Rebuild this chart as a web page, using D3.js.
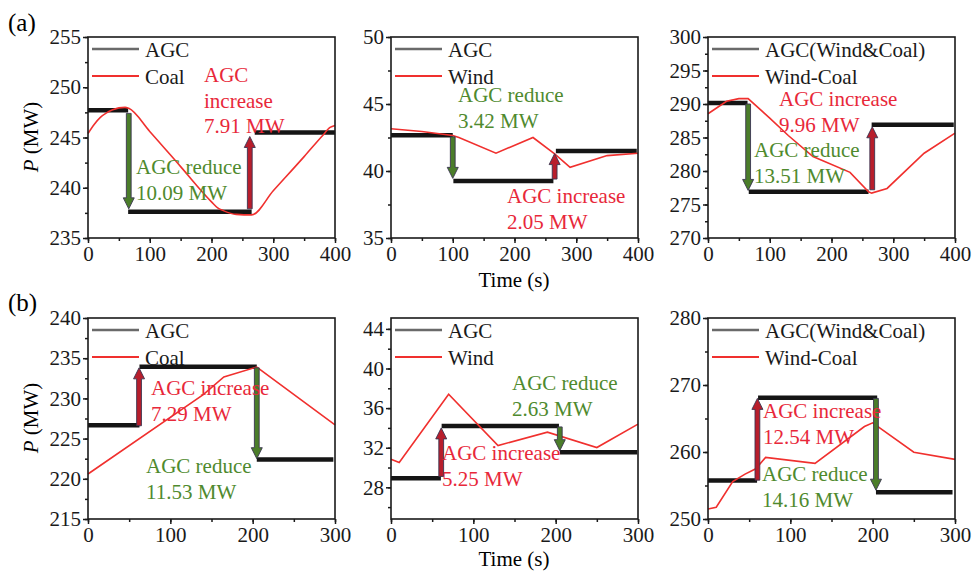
<!DOCTYPE html>
<html>
<head>
<meta charset="utf-8">
<script src="https://cdn.jsdelivr.net/npm/d3@7"></script>
<style>
body { margin: 0; background: #fff; }
</style>
</head>
<body>
<div id="chart"></div>
<script>
// ---- values ----
// row (a): 400 s run
const a1CoalT = [0, 10, 20, 30, 40, 50, 60, 66, 100, 150, 200, 210, 220, 240, 265, 300, 350, 380, 392, 400];
const a1CoalP = [245.4, 246.3, 247.0, 247.45, 247.75, 247.95, 248.0, 247.9, 245.6, 242.1, 238.6, 238.0, 237.7, 237.35, 237.3, 239.7, 243.1, 245.2, 246.0, 246.2];
const a1Agc = [[0, 65, 247.7], [65, 265, 237.6], [270, 400, 245.5]];
const a1Arrows = [[66, 247.4, 237.9], [262, 237.9, 245.1]];

const a2WindT = [0, 50, 100, 110, 170, 230, 265, 290, 350, 400];
const a2WindP = [43.15, 42.95, 42.65, 42.5, 41.33, 42.5, 41.28, 40.28, 41.15, 41.33];
const a2Agc = [[0, 100, 42.67], [101, 263, 39.26], [267, 398, 41.5]];
const a2Arrows = [[100, 42.55, 39.45], [265, 39.4, 41.3]];

const a3MixT = [0, 30, 50, 65, 100, 130, 170, 230, 260, 265, 290, 350, 400];
const a3MixP = [288.55, 290.4, 290.8, 290.8, 287.9, 285.3, 282.15, 279.8, 276.9, 276.7, 277.4, 282.65, 285.65];
const a3Agc = [[0, 64, 290.15], [66, 260, 276.9], [265, 398, 286.9]];
const a3Arrows = [[65, 290.0, 277.1], [266, 277.2, 286.6]];

// row (b): 300 s run
const b1CoalT = [0, 140, 165, 205, 300];
const b1CoalP = [220.6, 230.46, 232.66, 233.9, 226.7];
const b1Agc = [[0, 62.5, 226.65], [62.5, 205, 233.95], [205, 298, 222.4]];
const b1Arrows = [[62, 226.6, 233.8], [205, 233.8, 222.5]];

const b2WindT = [0, 10, 70, 130, 190, 250, 300];
const b2WindP = [30.84, 30.5, 37.4, 32.22, 33.57, 32.02, 34.38];
const b2Agc = [[0, 60.6, 28.91], [61.5, 204, 34.2], [205, 299, 31.55]];
const b2Arrows = [[61, 29.1, 34.0], [205, 34.1, 31.7]];

const b3MixT = [0, 10, 30, 45, 58, 70, 130, 190, 200, 250, 300];
const b3MixP = [251.5, 251.75, 255.6, 256.7, 257.5, 259.2, 258.3, 263.8, 264.35, 259.97, 258.9];
const b3Agc = [[0, 59.6, 255.73], [60.8, 205.5, 268.1], [204, 297, 254.0]];
const b3Arrows = [[60, 255.8, 268.0], [204, 268.0, 254.3]];

// axis tick labels
const a1Ticks = [235, 240, 245, 250, 255];
const a2Ticks = [35, 40, 45, 50];
const a3Ticks = [270, 275, 280, 285, 290, 295, 300];
const b1Ticks = [215, 220, 225, 230, 235, 240];
const b2Ticks = [28, 32, 36, 40, 44];
const b3Ticks = [250, 260, 270, 280];
const xTicksA = [0, 100, 200, 300, 400];
const xTicksB = [0, 100, 200, 300];

// legend and annotation texts
const legendCoal = ["AGC", "Coal"];
const legendWind = ["AGC", "Wind"];
const legendMix = ["AGC(Wind&Coal)", "Wind-Coal"];
const a1Notes = [["AGC", "increase", "7.91 MW"], ["AGC reduce", "10.09 MW"]];
const a2Notes = [["AGC increase", "2.05 MW"], ["AGC reduce", "3.42 MW"]];
const a3Notes = [["AGC increase", "9.96 MW"], ["AGC reduce", "13.51 MW"]];
const b1Notes = [["AGC increase", "7.29 MW"], ["AGC reduce", "11.53 MW"]];
const b2Notes = [["AGC increase", "5.25 MW"], ["AGC reduce", "2.63 MW"]];
const b3Notes = [["AGC increase", "12.54 MW"], ["AGC reduce", "14.16 MW"]];

// ---- layout ----
const FONT = "'Liberation Serif', Tinos, 'Times New Roman', Times, 'DejaVu Serif', serif";

const svg = d3.select("#chart").append("svg")
  .attr("width", 972)
  .attr("height", 572)
  .attr("font-family", FONT)
  .style("font-family", FONT);

const RED = "#f0302e";
const RED_TXT = "#e8283a";
const GREEN_TXT = "#4f8a2e";
const W = 247, H = 201;

// note offsets are [dx, dy of first baseline] from the plot's top-left
const panels = [
  { left: 88, top: 37, xmax: 400, y: [235, 255], yt: a1Ticks, yminor: 2.5, xt: xTicksA,
    t: a1CoalT, p: a1CoalP, agc: a1Agc, arrows: a1Arrows, legend: legendCoal,
    notes: a1Notes, noteAt: [[116, 45], [48, 137]] },
  { left: 391, top: 37, xmax: 400, y: [35, 50], yt: a2Ticks, yminor: 2.5, xt: xTicksA,
    t: a2WindT, p: a2WindP, agc: a2Agc, arrows: a2Arrows, legend: legendWind,
    notes: a2Notes, noteAt: [[116, 166], [67, 65]] },
  { left: 708, top: 37, xmax: 400, y: [270, 300], yt: a3Ticks, yminor: 2.5, xt: xTicksA,
    t: a3MixT, p: a3MixP, agc: a3Agc, arrows: a3Arrows, legend: legendMix,
    notes: a3Notes, noteAt: [[71, 69], [46, 120]] },
  { left: 88, top: 318, xmax: 300, y: [215, 240], yt: b1Ticks, yminor: 2.5, xt: xTicksB,
    t: b1CoalT, p: b1CoalP, agc: b1Agc, arrows: b1Arrows, legend: legendCoal,
    notes: b1Notes, noteAt: [[63, 77], [58, 155]] },
  { left: 391, top: 318, xmax: 300, y: [24.8, 45.1], yt: b2Ticks, yminor: 2, xt: xTicksB,
    t: b2WindT, p: b2WindP, agc: b2Agc, arrows: b2Arrows, legend: legendWind,
    notes: b2Notes, noteAt: [[51, 142], [121, 72]] },
  { left: 708, top: 318, xmax: 300, y: [250, 280], yt: b3Ticks, yminor: 5, xt: xTicksB,
    t: b3MixT, p: b3MixP, agc: b3Agc, arrows: b3Arrows, legend: legendMix,
    notes: b3Notes, noteAt: [[55, 100], [54, 163]] }
];

panels.forEach(function(pn, i) {
  const g = svg.append("g").attr("transform", `translate(${pn.left}, ${pn.top})`);

  const x = d3.scaleLinear().domain([0, pn.xmax]).range([0, W]);
  const y = d3.scaleLinear().domain(pn.y).range([H, 0]);

  // minor ticks (no labels)
  const yMinor = d3.range(Math.ceil(pn.y[0] / pn.yminor) * pn.yminor, pn.y[1] + 0.001, pn.yminor);
  g.append("g")
    .call(d3.axisLeft(y).tickValues(yMinor).tickSize(3).tickFormat(""))
    .call(a => a.select(".domain").remove());
  g.append("g")
    .attr("transform", `translate(0, ${H})`)
    .call(d3.axisBottom(x).tickValues(d3.range(0, pn.xmax + 1, 50)).tickSize(3).tickFormat(""))
    .call(a => a.select(".domain").remove());

  const yAxis = g.append("g")
    .call(d3.axisLeft(y).tickValues(pn.yt).tickSize(5).tickPadding(2).tickFormat(d3.format("d")));
  const xAxis = g.append("g")
    .attr("transform", `translate(0, ${H})`)
    .call(d3.axisBottom(x).tickValues(pn.xt).tickSize(5).tickPadding(3).tickFormat(d3.format("d")));

  [yAxis, xAxis].forEach(a => {
    a.attr("font-family", FONT).attr("font-size", 21);
    a.select(".domain").remove();
    a.selectAll("text").attr("fill", "#1a1a1a");
  });
  g.selectAll(".tick line").attr("stroke", "#1a1a1a").attr("stroke-width", 1.5);

  // AGC steps
  g.selectAll(".agc")
    .data(pn.agc)
    .enter()
    .append("line")
    .attr("x1", d => x(d[0]))
    .attr("x2", d => x(d[1]))
    .attr("y1", d => y(d[2]))
    .attr("y2", d => y(d[2]))
    .attr("stroke", "#151515")
    .attr("stroke-width", 4.5);

  // power curve
  const pts = pn.t.map((t, k) => [t, pn.p[k]]);
  const line = d3.line()
    .x(d => x(d[0]))
    .y(d => y(d[1]))
    .curve(i === 0 ? d3.curveMonotoneX : d3.curveLinear);
  g.append("path")
    .datum(pts)
    .attr("d", line)
    .attr("fill", "none")
    .attr("stroke", RED)
    .attr("stroke-width", 1.6);

  // arrows: up = red, down = green
  g.selectAll(".arrow")
    .data(pn.arrows)
    .enter()
    .append("path")
    .attr("d", d => {
      const cx = x(d[0]), y0 = y(d[1]), y1 = y(d[2]);
      const dir = y1 < y0 ? -1 : 1;
      const hl = 11, sw = 2.4, hw = 5.5;
      const yb = y1 - dir * hl;
      return `M${cx - sw},${y0} L${cx - sw},${yb} L${cx - hw},${yb} L${cx},${y1} ` +
             `L${cx + hw},${yb} L${cx + sw},${yb} L${cx + sw},${y0} Z`;
    })
    .attr("fill", d => d[2] > d[1] ? "#b81e2c" : "#4b7d2a")
    .attr("stroke", "#3a3450")
    .attr("stroke-width", 0.9);

  // annotations
  pn.notes.forEach(function(lines, k) {
    const isUp = lines[0].indexOf("increase") >= 0 || lines[1] === "increase";
    const at = pn.noteAt[k];
    const t = g.append("text")
      .attr("x", at[0])
      .attr("y", at[1])
      .attr("font-size", 21)
      .attr("fill", isUp ? RED_TXT : GREEN_TXT);
    lines.forEach((s, j) => {
      t.append("tspan").attr("x", at[0]).attr("y", at[1] + j * 25.5).text(s);
    });
  });

  // legend
  const lg = g.append("g");
  pn.legend.forEach(function(name, k) {
    const ly = 12 + k * 27;
    lg.append("line")
      .attr("x1", 4).attr("x2", 51)
      .attr("y1", ly).attr("y2", ly)
      .attr("stroke", k === 0 ? "#6a6a6a" : RED)
      .attr("stroke-width", k === 0 ? 2.6 : 2);
    lg.append("text")
      .attr("x", 57)
      .attr("y", ly + 8)
      .attr("font-size", 21)
      .attr("fill", "#1a1a1a")
      .text(name);
  });

  // frame
  g.append("rect")
    .attr("width", W)
    .attr("height", H)
    .attr("fill", "none")
    .attr("stroke", "#1a1a1a")
    .attr("stroke-width", 1.6);
});

// row labels and axis titles
svg.append("text").attr("x", 8).attr("y", 31).attr("font-size", 25).text("(a)");
svg.append("text").attr("x", 8).attr("y", 311).attr("font-size", 25).text("(b)");

[287, 566].forEach(yy => {
  svg.append("text")
    .attr("x", 514).attr("y", yy)
    .attr("text-anchor", "middle")
    .attr("font-size", 21)
    .text("Time (s)");
});

[137, 418].forEach(yy => {
  const t = svg.append("text")
    .attr("transform", `translate(38, ${yy}) rotate(-90)`)
    .attr("text-anchor", "middle")
    .attr("font-size", 21);
  t.append("tspan").attr("font-style", "italic").text("P");
  t.append("tspan").text(" (MW)");
});
</script>
</body>
</html>
